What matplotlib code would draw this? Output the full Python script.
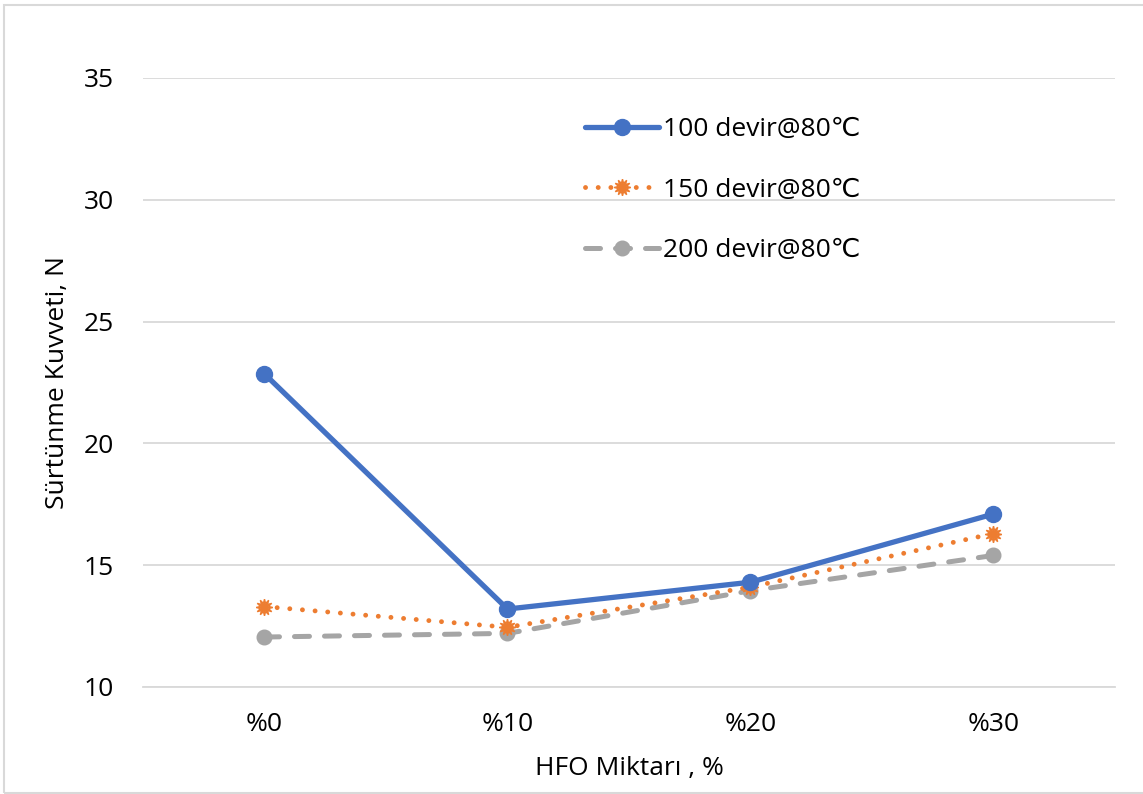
import matplotlib
matplotlib.use("Agg")
import matplotlib.pyplot as plt
from matplotlib.patches import Rectangle

# Friction force vs. HFO content at 80 °C for three rotation speeds
categories = ["%0", "%10", "%20", "%30"]
rpm_100 = [22.85, 13.2, 14.3, 17.1]
rpm_150 = [13.3, 12.45, 14.1, 16.3]
rpm_200 = [12.05, 12.2, 13.95, 15.4]
series_labels = ["100 devir@80℃", "150 devir@80℃", "200 devir@80℃"]
y_ticks = [10, 15, 20, 25, 30, 35]

plt.rcParams["font.family"] = ["Open Sans", "DejaVu Sans"]
FS = 19

fig = plt.figure(figsize=(11.43, 7.94), dpi=100)
ax = fig.add_axes([0.1251, 0.1348, 0.8504, 0.767])

x = list(range(len(categories)))

ax.plot(x, rpm_100, color="#4472C4", lw=3.8, marker="o", ms=11.5,
        solid_capstyle="round", label=series_labels[0], zorder=4)
ax.plot(x, rpm_150, color="#ED7D31", lw=3.5, ls=(0, (0.01, 2.6)),
        dash_capstyle="round", marker=(12, 1, 0), ms=12,
        label=series_labels[1], zorder=3)
ax.plot(x, rpm_200, color="#A5A5A5", lw=3.6, ls=(0, (3.0, 3.0)),
        dash_capstyle="round", marker="o", ms=10.5,
        label=series_labels[2], zorder=2)

ax.set_xlim(-0.5, len(categories) - 0.5)
ax.set_ylim(10, 35)
ax.set_yticks(y_ticks)
ax.set_xticks(x)
ax.set_xticklabels(categories)

ax.grid(axis="y", color="#D9D9D9", lw=1.3)
ax.set_axisbelow(True)
for side in ["top", "right", "left"]:
    ax.spines[side].set_visible(False)
ax.spines["bottom"].set_color("#D9D9D9")
ax.spines["bottom"].set_linewidth(1.3)
ax.tick_params(axis="both", length=0, labelsize=FS, colors="#000000")
ax.tick_params(axis="y", pad=21)
ax.tick_params(axis="x", pad=18)

ax.set_ylabel("Sürtünme Kuvveti, N", fontsize=FS, labelpad=10)
ax.set_xlabel("HFO Miktarı , %", fontsize=FS, labelpad=14)

leg = ax.legend(loc="upper left", bbox_to_anchor=(0.43, 0.975),
                frameon=False, fontsize=FS, handlelength=2.8,
                labelspacing=1.35, handletextpad=0.15)

# Light frame around the chart area
fig.patches.append(Rectangle((0.0035, 0.0015), 1.2, 0.9925,
                             transform=fig.transFigure, fill=False,
                             edgecolor="#D9D9D9", lw=1.5))

fig.savefig("out.png", dpi=100)
